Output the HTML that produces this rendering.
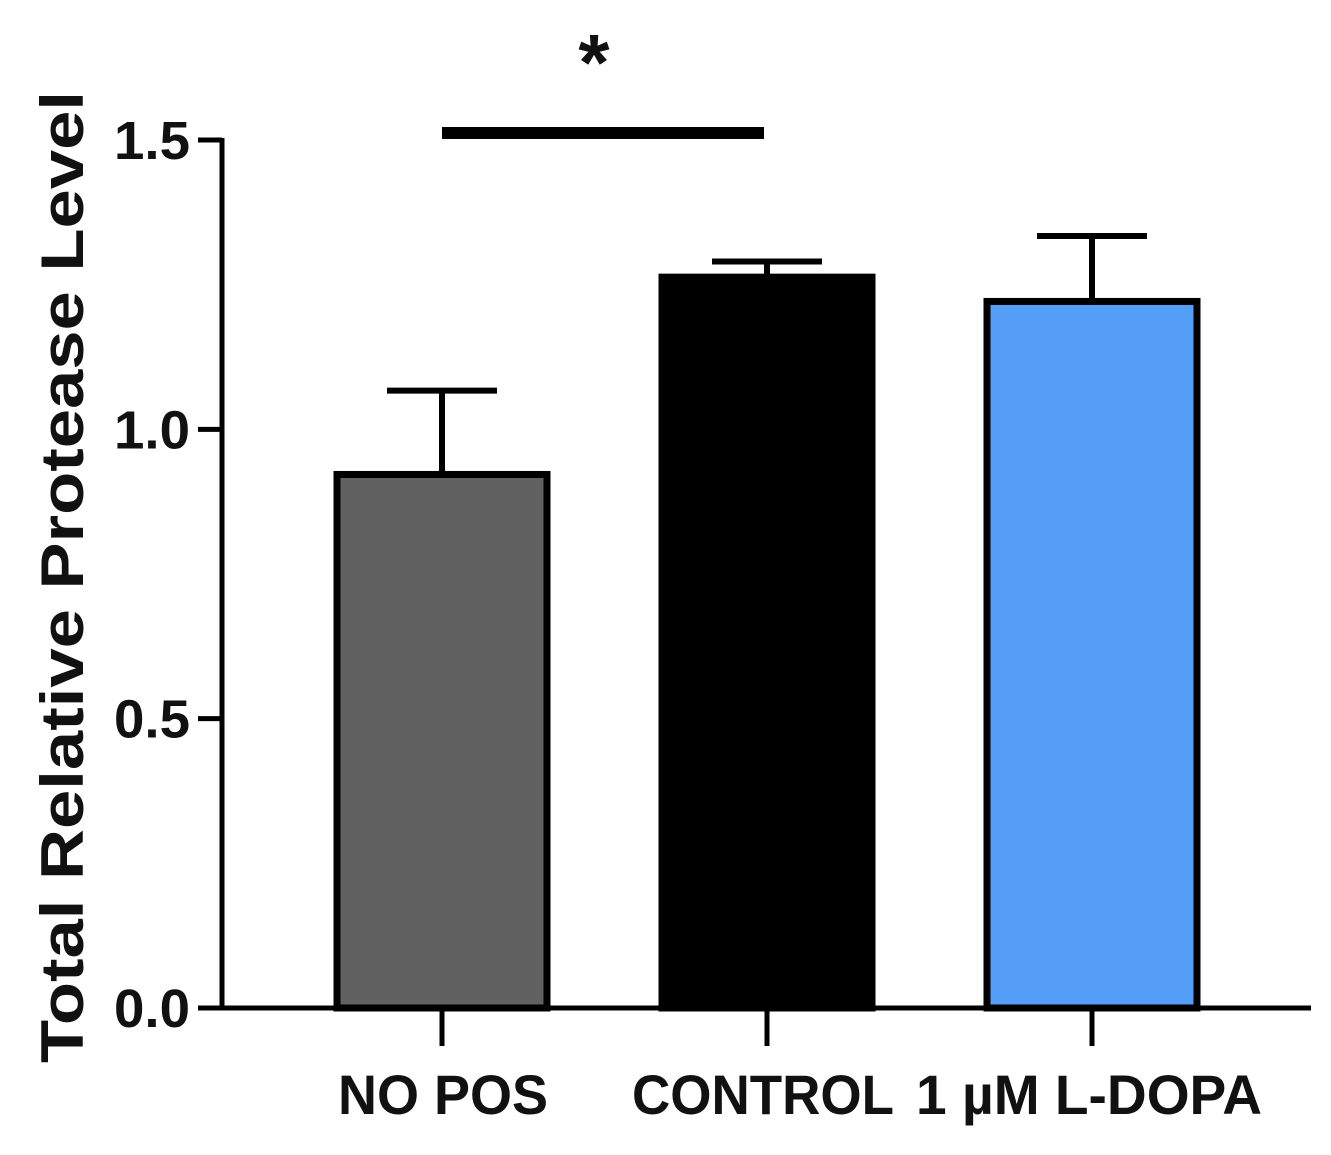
<!DOCTYPE html>
<html><head><meta charset="utf-8"><style>
body{margin:0;background:#fff}
svg text{font-family:"Liberation Sans",Arial,sans-serif;font-weight:bold;fill:#111}
</style></head><body>
<svg width="1331" height="1150" viewBox="0 0 1331 1150">
<g id="plot"></g>
</svg>
<script>
const categories=["NO POS","CONTROL","1 \u00b5M L-DOPA"];
const means=[0.922,1.263,1.221];
const errors=[0.145,0.027,0.113];
const colors=["#616161","#000000","#559ef8"];
const ticks=[0,0.5,1.0,1.5];
const tickLabels=["0.0","0.5","1.0","1.5"];
const NS="http://www.w3.org/2000/svg";
const g=document.getElementById('plot');
const y0=1008,y1=140,vmax=1.5;
const y=v=>y0-(v/vmax)*(y0-y1);
const xC=i=>442+i*325;
const bw=216;
function mk(t,a){const e=document.createElementNS(NS,t);for(const k in a)e.setAttribute(k,a[k]);g.appendChild(e);return e;}
categories.forEach((c,i)=>{
 const cx=xC(i);
 const eb=mk('line',{x1:cx,x2:cx,y1:y(means[i]),y2:y(means[i]+errors[i]),stroke:'#000','stroke-width':6});
 
 
 const cap=mk('line',{x1:cx-55,x2:cx+55,y1:y(means[i]+errors[i]),y2:y(means[i]+errors[i]),stroke:'#000','stroke-width':6});
 
 
 const r=mk('rect',{x:cx-bw/2+3,y:y(means[i]),width:bw-6,height:y0-y(means[i]),fill:colors[i],stroke:'#000','stroke-width':7});
 
 
 const tk=mk('line',{x1:cx,x2:cx,y1:y0,y2:1046,stroke:'#000','stroke-width':5});
 
 
});
const xa=mk('line',{x1:198,x2:1311,y1:y0,y2:y0,stroke:'#000','stroke-width':5});


const ya=mk('line',{x1:222,x2:222,y1:y1-2,y2:y0+2,stroke:'#000','stroke-width':5});


ticks.forEach((t,i)=>{
 const l=mk('line',{x1:198,x2:222,y1:y(t),y2:y(t),stroke:'#000','stroke-width':5});
 
 
 const tx=mk('text',{x:114,y:y(t)+19,'font-size':54,textLength:76,lengthAdjust:'spacingAndGlyphs'});
 tx.textContent=tickLabels[i];
 
 
});
const lx=[338,632,916];
const lw=[210,262,346];
categories.forEach((c,i)=>{
 const t=mk('text',{x:lx[i],y:1114,'font-size':56,textLength:lw[i],lengthAdjust:'spacingAndGlyphs'});
 t.textContent=c;
 
 
});
const yl=mk('text',{x:0,y:0,'font-size':60,textLength:972,lengthAdjust:'spacingAndGlyphs',transform:'translate(83,1063) rotate(-90)'});
yl.textContent='Total Relative Protease Level';


const sig=mk('line',{x1:442,x2:764,y1:133,y2:133,stroke:'#000','stroke-width':12});


const st=mk('text',{x:594,y:90,'text-anchor':'middle','font-size':80});
st.textContent='*';


</script>
</body></html>
